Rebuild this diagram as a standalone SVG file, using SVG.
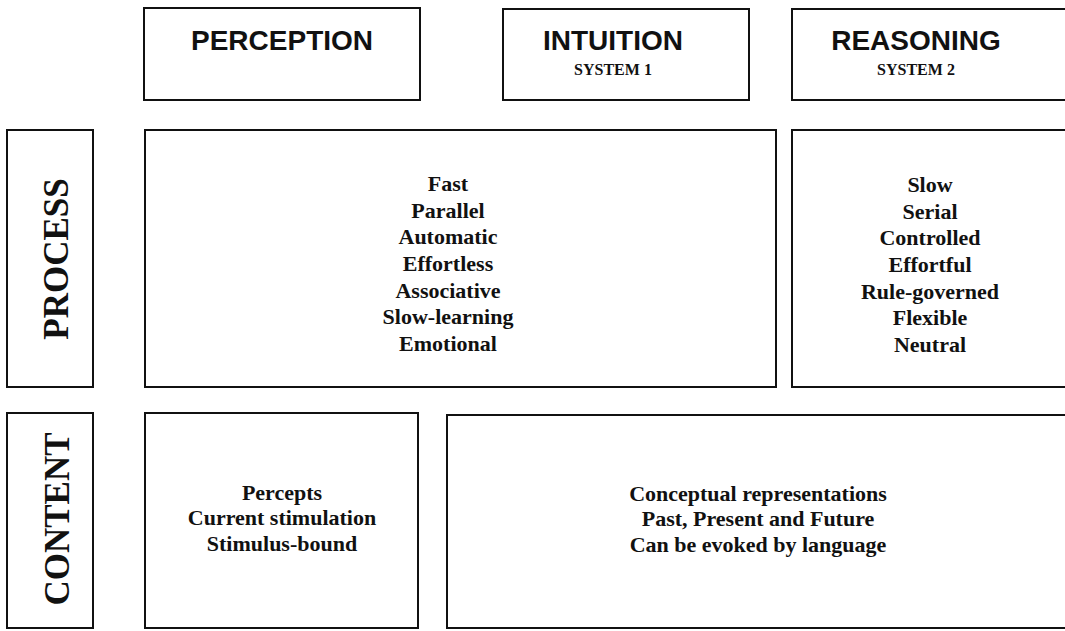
<svg xmlns="http://www.w3.org/2000/svg" width="1065" height="631" viewBox="0 0 1065 631">
<style>
.box{fill:#fff;stroke:#111;stroke-width:2}
.hd{font-family:"Liberation Sans",Arial,sans-serif;font-weight:bold;font-size:28px;fill:#111;text-anchor:middle}
.sub{font-family:"Liberation Serif","Times New Roman",serif;font-weight:bold;font-size:16px;fill:#111;text-anchor:middle}
.row{font-family:"Liberation Serif","Times New Roman",serif;font-weight:bold;font-size:35px;fill:#111;text-anchor:middle}
.it{font-family:"Liberation Serif","Times New Roman",serif;font-weight:bold;font-size:22px;fill:#111;text-anchor:middle}
</style>
<rect width="1065" height="631" fill="#fff"/>
<g id="perception">
<rect class="box" x="144" y="8" width="276" height="92"/>
<text class="hd" x="282" y="50">PERCEPTION</text>
</g>
<g id="intuition">
<rect class="box" x="503" y="9" width="246" height="91"/>
<text class="hd" x="613" y="50">INTUITION</text>
<text class="sub" x="613" y="75">SYSTEM 1</text>
</g>
<g id="reasoning">
<rect class="box" x="792" y="9" width="290" height="91"/>
<text class="hd" x="916" y="50">REASONING</text>
<text class="sub" x="916" y="75">SYSTEM 2</text>
</g>
<g id="process-label">
<rect class="box" x="7" y="130" width="86" height="257"/>
<text class="row" transform="translate(68,259) rotate(-90)">PROCESS</text>
</g>
<g id="process-system1">
<rect class="box" x="145" y="130" width="631" height="257"/>
<text class="it" x="448" y="191">Fast</text>
<text class="it" x="448" y="217.7">Parallel</text>
<text class="it" x="448" y="244.3">Automatic</text>
<text class="it" x="448" y="271">Effortless</text>
<text class="it" x="448" y="297.7">Associative</text>
<text class="it" x="448" y="324.3">Slow-learning</text>
<text class="it" x="448" y="351">Emotional</text>
</g>
<g id="process-system2">
<rect class="box" x="792" y="130" width="290" height="257"/>
<text class="it" x="930" y="192">Slow</text>
<text class="it" x="930" y="218.7">Serial</text>
<text class="it" x="930" y="245.3">Controlled</text>
<text class="it" x="930" y="272">Effortful</text>
<text class="it" x="930" y="298.7">Rule-governed</text>
<text class="it" x="930" y="325.3">Flexible</text>
<text class="it" x="930" y="352">Neutral</text>
</g>
<g id="content-label">
<rect class="box" x="7" y="413" width="86" height="215"/>
<text class="row" transform="translate(69,519) rotate(-90)">CONTENT</text>
</g>
<g id="content-percepts">
<rect class="box" x="145" y="413" width="273" height="215"/>
<text class="it" x="282" y="500">Percepts</text>
<text class="it" x="282" y="525">Current stimulation</text>
<text class="it" x="282" y="551">Stimulus-bound</text>
</g>
<g id="content-conceptual">
<rect class="box" x="447" y="415" width="640" height="213"/>
<text class="it" x="758" y="501">Conceptual representations</text>
<text class="it" x="758" y="526">Past, Present and Future</text>
<text class="it" x="758" y="552">Can be evoked by language</text>
</g>
<g id="connectors"></g>
</svg>
